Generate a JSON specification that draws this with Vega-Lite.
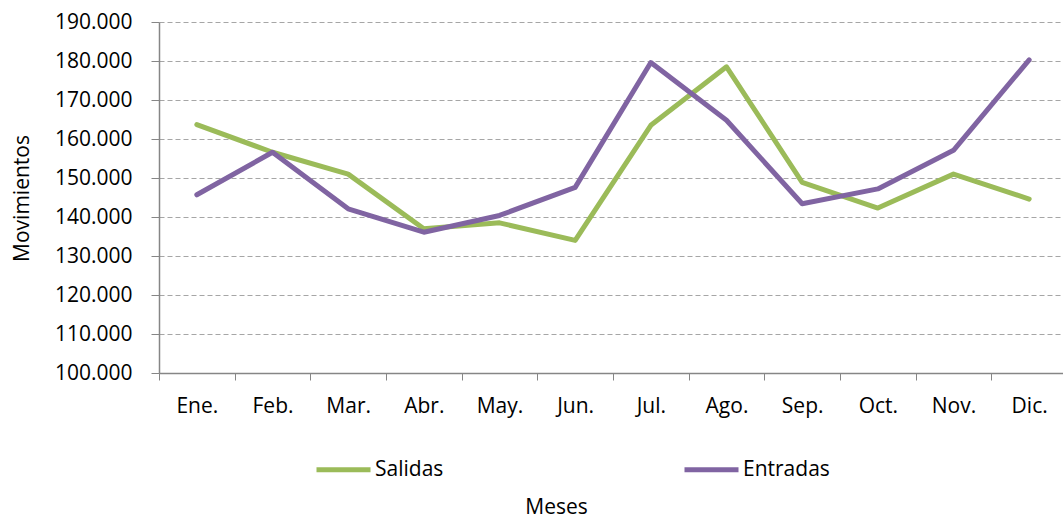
{
  "$schema": "https://vega.github.io/schema/vega-lite/v6.json",
  "width": 908,
  "height": 351,
  "autosize": {"type": "none"},
  "padding": {"left": 159, "top": 22, "right": 0, "bottom": 148},
  "background": "white",
  "config": {
    "view": {"stroke": null},
    "font": "Open Sans",
    "axis": {"labelFont": "Open Sans", "titleFont": "Open Sans", "labelColor": "#000000", "titleColor": "#000000", "titleFontWeight": "normal"}
  },
  "data": {
    "values": [
      {"mes": "Ene.", "serie": "Salidas", "valor": 163700},
      {"mes": "Feb.", "serie": "Salidas", "valor": 156600},
      {"mes": "Mar.", "serie": "Salidas", "valor": 151000},
      {"mes": "Abr.", "serie": "Salidas", "valor": 137000},
      {"mes": "May.", "serie": "Salidas", "valor": 138500},
      {"mes": "Jun.", "serie": "Salidas", "valor": 134000},
      {"mes": "Jul.", "serie": "Salidas", "valor": 163500},
      {"mes": "Ago.", "serie": "Salidas", "valor": 178500},
      {"mes": "Sep.", "serie": "Salidas", "valor": 148900},
      {"mes": "Oct.", "serie": "Salidas", "valor": 142300},
      {"mes": "Nov.", "serie": "Salidas", "valor": 151000},
      {"mes": "Dic.", "serie": "Salidas", "valor": 144600},
      {"mes": "Ene.", "serie": "Entradas", "valor": 145700},
      {"mes": "Feb.", "serie": "Entradas", "valor": 156600},
      {"mes": "Mar.", "serie": "Entradas", "valor": 142100},
      {"mes": "Abr.", "serie": "Entradas", "valor": 136100},
      {"mes": "May.", "serie": "Entradas", "valor": 140400},
      {"mes": "Jun.", "serie": "Entradas", "valor": 147600},
      {"mes": "Jul.", "serie": "Entradas", "valor": 179600},
      {"mes": "Ago.", "serie": "Entradas", "valor": 164800},
      {"mes": "Sep.", "serie": "Entradas", "valor": 143400},
      {"mes": "Oct.", "serie": "Entradas", "valor": 147200},
      {"mes": "Nov.", "serie": "Entradas", "valor": 157100},
      {"mes": "Dic.", "serie": "Entradas", "valor": 180300}
    ]
  },
  "mark": {"type": "line", "strokeWidth": 5, "strokeCap": "round", "strokeJoin": "round"},
  "encoding": {
    "x": {
      "field": "mes",
      "type": "ordinal",
      "sort": ["Ene.", "Feb.", "Mar.", "Abr.", "May.", "Jun.", "Jul.", "Ago.", "Sep.", "Oct.", "Nov.", "Dic."],
      "scale": {"type": "band", "paddingInner": 0, "paddingOuter": 0},
      "bandPosition": 0.5,
      "axis": {
        "title": "Meses",
        "titleFontSize": 21,
        "titleX": 397,
        "titleY": 134,
        "titleBaseline": "middle",
        "titleAlign": "center",
        "labelAngle": 0,
        "labelFontSize": 21,
        "labelPadding": 15,
        "tickBand": "extent",
        "tickSize": 7,
        "tickColor": "#868686",
        "domainColor": "#868686",
        "domainWidth": 1.5,
        "grid": false
      }
    },
    "y": {
      "field": "valor",
      "type": "quantitative",
      "scale": {"domain": [100000, 190000], "nice": false, "zero": false},
      "axis": {
        "title": "Movimientos",
        "titleFontSize": 21,
        "titleAngle": -90,
        "titleX": -137,
        "titleY": 176,
        "titleBaseline": "middle",
        "titleAlign": "center",
        "values": [100000, 110000, 120000, 130000, 140000, 150000, 160000, 170000, 180000, 190000],
        "labelExpr": "replace(format(datum.value, ','), ',', '.')",
        "labelFontSize": 21,
        "labelPadding": 19,
        "tickSize": 8,
        "tickColor": "#868686",
        "domainColor": "#868686",
        "domainWidth": 1.5,
        "grid": true,
        "gridColor": "#a6a6a6",
        "gridDash": [5, 3],
        "gridWidth": 1.2
      }
    },
    "color": {
      "field": "serie",
      "type": "nominal",
      "scale": {"domain": ["Salidas", "Entradas"], "range": ["#9BBB59", "#8064A2"]},
      "legend": {
        "title": null,
        "orient": "none",
        "direction": "horizontal",
        "legendX": 155,
        "legendY": 418,
        "symbolType": "stroke",
        "symbolSize": 2916,
        "symbolStrokeWidth": 5,
        "labelFontSize": 21,
        "labelOffset": 2,
        "columnPadding": 230,
        "labelFont": "Open Sans",
        "labelColor": "#000000"
      }
    }
  }
}
